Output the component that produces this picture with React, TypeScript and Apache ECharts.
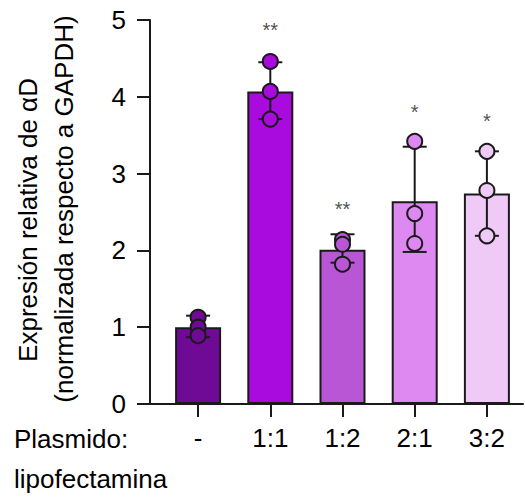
import React, { useEffect, useRef } from "react";
import * as echarts from "echarts";

const categories = ["-", "1:1", "1:2", "2:1", "3:2"];
const barMeans = [1.0, 4.07, 2.01, 2.64, 2.74];
const errLow = [0.87, 3.71, 1.84, 1.98, 2.19];
const errHigh = [1.15, 4.45, 2.21, 3.35, 3.29];
const dotsPerGroup = [
  [1.13, 1.0, 0.89],
  [4.46, 4.07, 3.71],
  [2.14, 2.08, 1.82],
  [3.42, 2.48, 2.09],
  [3.29, 2.78, 2.19],
];
const starLabels = ["", "**", "**", "*", "*"];
const starY = [0, 4.93, 2.6, 3.87, 3.75];
const barColors = ["#6f0a96", "#a90ade", "#b956d6", "#de88f2", "#efcaf6"];
const yTicks = [0, 1, 2, 3, 4, 5];
const yTitle1 = "Expresión relativa de αD";
const yTitle2 = "(normalizada respecto a GAPDH)";
const xTitle1 = "Plasmido:";
const xTitle2 = "lipofectamina";

const FONT = "'Liberation Sans', Arial, sans-serif";
const INK = "#1a1a1a";

export default function App() {
  const ref = useRef<HTMLDivElement>(null);
  useEffect(() => {
    if (!ref.current) return;
    const chart = echarts.init(ref.current, null, { renderer: "svg" });
    const dotData: any[] = [];
    dotsPerGroup.forEach((g, i) =>
      g.forEach((v) =>
        dotData.push({ value: [i, v], itemStyle: { color: barColors[i] } })
      )
    );
    const option: any = {
      animation: false,
      grid: { left: 162, right: 2, top: 20, bottom: 97 },
      xAxis: {
        type: "category",
        data: categories,
        axisLine: { show: true, lineStyle: { color: INK, width: 2 } },
        axisTick: { show: true, alignWithLabel: true, length: 13, lineStyle: { color: INK, width: 2 } },
        axisLabel: { fontSize: 26, color: "#000", fontFamily: FONT, margin: 21, lineHeight: 26 },
      },
      yAxis: {
        type: "value",
        min: yTicks[0],
        max: yTicks[yTicks.length - 1],
        interval: 1,
        offset: 12,
        splitLine: { show: false },
        axisLine: { show: true, lineStyle: { color: INK, width: 2 } },
        axisTick: { show: true, length: 13, lineStyle: { color: INK, width: 2 } },
        axisLabel: { fontSize: 26, color: "#000", fontFamily: FONT, margin: 24 },
      },
      series: [
        {
          type: "bar",
          barWidth: 46,
          z: 2,
          data: barMeans.map((v, i) => ({
            value: v,
            itemStyle: { color: barColors[i], borderColor: INK, borderWidth: 2 },
          })),
        },
        {
          type: "custom",
          z: 3,
          encode: { x: 0, y: [1, 2] },
          data: errLow.map((lo, i) => [i, lo, errHigh[i]]),
          renderItem: (params: any, api: any) => {
            const x = api.value(0);
            const lo = api.coord([x, api.value(1)]);
            const hi = api.coord([x, api.value(2)]);
            const hw = 12;
            const st = { stroke: INK, lineWidth: 2 };
            return {
              type: "group",
              children: [
                { type: "line", shape: { x1: lo[0], y1: lo[1], x2: hi[0], y2: hi[1] }, style: st },
                { type: "line", shape: { x1: lo[0] - hw, y1: lo[1], x2: lo[0] + hw, y2: lo[1] }, style: st },
                { type: "line", shape: { x1: hi[0] - hw, y1: hi[1], x2: hi[0] + hw, y2: hi[1] }, style: st },
              ],
            };
          },
        },
        {
          type: "scatter",
          z: 4,
          symbolSize: 15,
          itemStyle: { borderColor: INK, borderWidth: 2, opacity: 1 },
          data: dotData,
        },
        {
          type: "scatter",
          z: 5,
          symbolSize: 0,
          silent: true,
          data: starY.map((v, i) => ({ value: [i, v], name: starLabels[i] })),
          label: {
            show: true,
            position: "inside",
            formatter: (p: any) => starLabels[p.dataIndex],
            fontSize: 20,
            color: "#222",
            fontFamily: FONT,
            offset: [0, 5],
          },
        },
      ],
      graphic: [
        {
          type: "line",
          shape: { x1: 149, y1: 404, x2: 163, y2: 404 },
          style: { stroke: INK, lineWidth: 2 },
        },
        {
          type: "text",
          x: 28,
          y: 220,
          rotation: Math.PI / 2,
          style: { text: yTitle1, fontSize: 26, fontFamily: FONT, fill: "#000", align: "center", verticalAlign: "middle" },
        },
        {
          type: "text",
          x: 64,
          y: 209,
          rotation: Math.PI / 2,
          style: { text: yTitle2, fontSize: 26, fontFamily: FONT, fill: "#000", align: "center", verticalAlign: "middle" },
        },
        {
          type: "text",
          x: 14,
          y: 439,
          style: { text: xTitle1, fontSize: 26, fontFamily: FONT, fill: "#000", align: "left", verticalAlign: "middle" },
        },
        {
          type: "text",
          x: 14,
          y: 479,
          style: { text: xTitle2, fontSize: 26, fontFamily: FONT, fill: "#000", align: "left", verticalAlign: "middle" },
        },
      ],
    };
    chart.setOption(option);
    return () => chart.dispose();
  }, []);
  return (
    <div
      ref={ref}
      style={{ position: "fixed", left: 0, top: 0, width: 525, height: 501, background: "#fff" }}
    />
  );
}
